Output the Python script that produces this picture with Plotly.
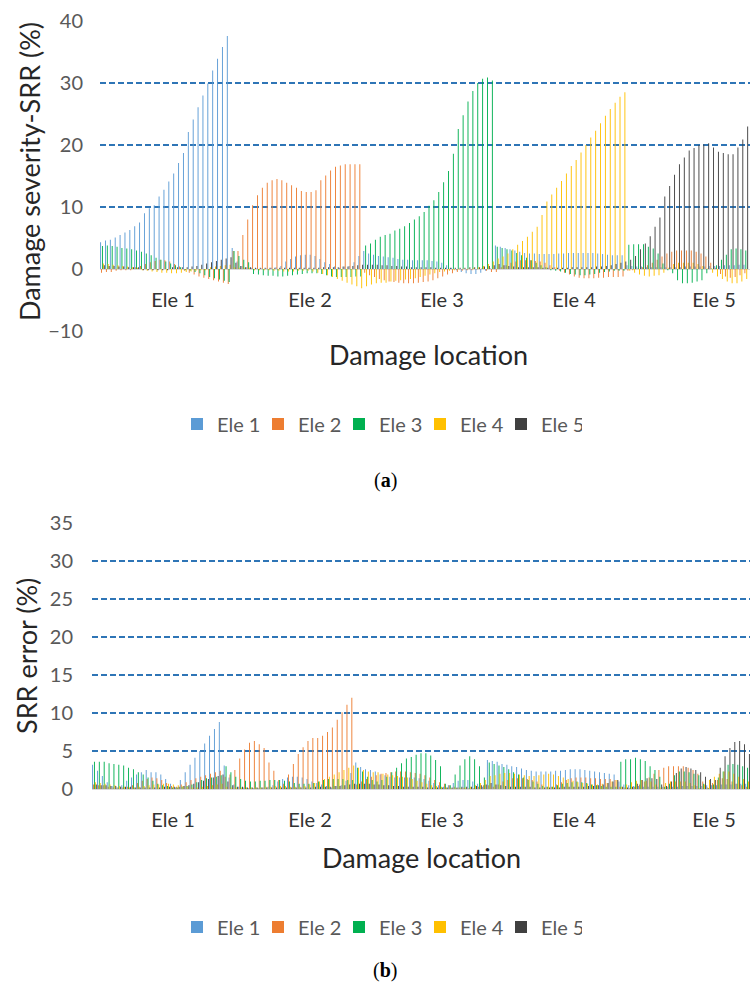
import plotly.graph_objects as go

W, H = 750, 996

series_names = ["Ele 1", "Ele 2", "Ele 3", "Ele 4", "Ele 5"]
location_labels = ["Ele 1", "Ele 2", "Ele 3", "Ele 4", "Ele 5"]
colors = ["#5B9BD5", "#ED7D31", "#00B050", "#FFC000", "#404040"]
cases_per_location = 27

# ---------------- (a) Damage severity identified by SRR (%) ----------------
# 27 damage cases per damaged element; the last cases of Ele 5 are outside the picture
sev_ele1 = [
    4.3, 4.6, 4.7, 5.1, 5.5, 5.9, 6.3, 6.9, 7.5, 9.0, 9.8, 10.3, 11.7, 12.8, 14.1, 15.4, 17.1, 18.7, 22.1, 24.1, 26.1, 28.0, 29.9, 32.0, 33.9, 35.8, 37.6,
    3.4, 1.2, 0.5, 0.3, 0.2, 0.1, 0.1, 0.1, 0.2, 0.3, 0.5, 1.2, 1.6, 2.0, 2.2, 2.3, 2.3, 2.1, 1.6, 1.1, 0.8, 0.4, 0.2, 0.4, 0.5, 1.1, 2.1,
    2.9, 2.5, 2.3, 2.1, 2.0, 1.9, 1.8, 1.6, 1.5, 1.5, 1.4, 1.4, 1.4, 1.4, 1.3, 1.2, 1.0, 0.6, 0.2, -0.2, -0.5, -0.7, -0.8, -0.8, -0.6, -0.3, 0.1,
    3.8, 3.6, 3.4, 3.2, 3.0, 2.8, 2.6, 2.5, 2.5, 2.4, 2.4, 2.4, 2.4, 2.5, 2.5, 2.6, 2.6, 2.6, 2.6, 2.6, 2.6, 2.5, 2.4, 2.3, 2.2, 2.2, 2.2,
    0.6, 0.5, 0.4, 0.4, 0.3, 0.3, 0.3, 0.3, 0.3, 0.3, 0.3, 0.3, 0.4, 0.4, 0.4, 0.4, 0.4, 0.5, 0.5, 0.5, 0.6, 0.6, 0.6, 0.7, 0.7,
]
sev_ele2 = [
    -0.6, -0.5, -0.5, -0.3, -0.2, -0.2, -0.2, 0.3, 0.5, 0.8, 1.1, 1.3, 1.5, 1.4, 1.2, 0.8, 0.4, -0.3, -0.6, -0.9, -1.2, -1.4, -1.6, -1.8, -2.0, -2.2, -2.4,
    2.9, 2.9, 5.5, 8.0, 10.3, 11.9, 13.1, 13.9, 14.3, 14.5, 14.3, 13.9, 13.5, 13.1, 12.6, 12.4, 12.4, 12.7, 14.3, 15.1, 15.9, 16.5, 16.7, 16.9, 16.9, 16.9, 16.9,
    -0.6, -1.0, -1.3, -1.6, -1.8, -2.0, -2.1, -2.2, -2.3, -2.3, -2.3, -2.2, -2.1, -2.0, -1.8, -1.5, -1.2, -0.9, -0.7, -0.5, -0.3, -0.2, -0.2, -0.1, 0.1, -0.3, -0.5,
    -0.5, 0.3, 0.6, 1.0, 1.2, 1.4, 1.4, 1.4, 1.3, 1.2, 1.0, 0.6, 0.3, -0.3, -0.6, -0.9, -1.2, -1.4, -1.5, -1.5, -1.5, -1.4, -1.4, -1.3, -1.3, -1.3, -1.2,
    -0.3, -0.2, 0.1, 0.3, 0.6, 1.0, 1.5, 2.0, 2.5, 2.8, 3.0, 3.0, 3.0, 3.0, 2.8, 2.5, 2.0, 1.0, 0.2, -0.8, -1.2, -1.4, -1.3, -1.0, -0.7,
]
sev_ele3 = [
    3.7, 3.8, 3.7, 3.6, 3.4, 3.3, 3.2, 3.0, 2.8, 2.5, 2.2, 1.8, 1.5, 1.2, 0.9, 0.6, 0.3, -0.2, -0.3, -0.5, -0.7, -1.0, -1.3, -1.5, -1.7, -1.9, -2.1,
    2.9, 2.1, 1.5, 1.1, -0.8, -0.9, -1.0, -1.1, -1.1, -1.2, -1.2, -1.1, -1.0, -0.9, -0.8, -0.7, -0.7, -0.7, -0.8, -1.0, -1.2, -1.3, -1.3, -1.3, -1.3, -1.2, -1.2,
    3.8, 4.1, 4.7, 5.2, 5.5, 5.7, 6.2, 6.5, 6.9, 7.4, 8.0, 8.5, 9.2, 10.2, 11.1, 12.4, 14.0, 15.8, 18.6, 22.6, 24.8, 27.0, 28.7, 30.0, 30.7, 30.9, 30.4,
    3.6, 3.4, 3.2, 3.0, 2.6, 2.2, 1.8, 1.4, 1.0, 0.6, 0.3, -0.2, -0.3, -0.4, -0.6, -0.8, -0.9, -1.0, -1.0, -0.9, -0.8, -0.6, -0.5, -0.4, -0.3, -0.3, -0.3,
    3.9, 4.0, 4.0, 4.0, 3.6, 3.3, 2.5, 0.9, -0.2, -0.7, -1.8, -2.3, -2.3, -2.2, -2.0, -1.8, -0.7, 0.1, 0.6, 1.5, 2.3, 3.2, 3.3, 3.2, 3.0,
]
sev_ele4 = [
    0.9, 0.8, 0.7, 0.6, 0.5, 0.4, 0.3, 0.2, -0.2, -0.3, -0.4, -0.5, -0.6, -0.6, -0.7, -0.7, -0.6, -0.5, -0.4, -0.3, -0.2, -0.2, 0.3, 0.4, 0.5, 0.6, 0.7,
    0.3, 0.2, 0.2, 0.2, -0.2, -0.2, -0.2, -0.2, -0.3, -0.3, -0.4, -0.4, -0.4, -0.3, -0.3, -0.3, -0.4, -0.6, -0.8, -1.0, -1.3, -1.6, -1.9, -2.2, -2.5, -2.8, -3.1,
    -2.8, -2.5, -2.3, -2.2, -2.2, -2.0, -1.9, -1.8, -1.7, -1.6, -1.5, -1.3, -1.1, -0.9, -0.7, -0.5, -0.4, -0.3, -0.2, -0.1, 0.1, 0.1, 0.2, 0.3, 0.5, 0.8, 1.2,
    1.7, 2.0, 2.5, 3.2, 3.9, 4.5, 5.2, 6.0, 6.8, 8.7, 10.9, 12.0, 13.1, 14.2, 15.4, 16.6, 17.6, 18.8, 20.0, 21.2, 22.3, 23.5, 24.7, 25.8, 26.8, 27.8, 28.5,
    -0.3, -0.6, -0.9, -1.1, -1.2, -1.1, -1.0, -0.6, 0.2, 0.8, 1.0, 1.0, 1.0, 1.0, 0.8, 0.5, 0.1, -0.6, -1.2, -1.6, -2.0, -2.3, -2.3, -2.0, -1.6,
]
sev_ele5 = [
    0.6, 0.5, 0.5, 0.4, 0.4, 0.3, 0.3, 0.3, -0.2, -0.2, -0.2, -0.2, -0.2, -0.2, 0.3, 0.3, 0.3, 0.3, 0.4, 0.5, 0.7, 0.9, 1.1, 1.3, 1.5, 1.7, 1.9,
    1.0, 0.5, 0.3, 0.3, 0.2, 0.2, 0.2, 0.2, 0.2, 0.2, 0.2, 0.2, 0.2, 0.2, 0.2, 0.2, 0.2, 0.2, 0.3, 0.3, 0.3, 0.3, 0.4, 0.4, 0.5, 0.6, 0.7,
    0.7, 0.7, 0.7, 0.6, 0.6, 0.5, 0.5, 0.4, 0.4, 0.3, 0.3, 0.3, 0.3, 0.3, 0.2, 0.2, 0.2, 0.2, 0.2, 0.2, 0.2, 0.3, 0.3, 0.3, 0.4, 0.5, 0.6,
    0.8, 0.6, 0.5, 0.4, 0.3, 0.3, 0.3, 0.3, 0.3, 0.2, 0.2, 0.2, 0.2, 0.2, 0.2, 0.3, 0.3, 0.3, 0.3, 0.3, 0.4, 0.4, 0.5, 0.6, 0.8, 1.0, 1.2,
    1.5, 2.1, 3.2, 4.1, 5.3, 6.8, 8.3, 11.7, 13.4, 15.2, 16.9, 18.0, 19.1, 19.5, 20.0, 20.1, 20.3, 19.6, 18.9, 18.7, 18.5, 18.5, 19.6, 20.9, 23.0,
]

# ---------------- (b) SRR error (%) ----------------
err_ele1 = [
    3.2, 2.4, 1.7, 0.9, 0.4, 0.2, 0.5, 1.1, 1.5, 1.9, 2.2, 2.5, 2.2, 2.2, 1.9, 1.3, 0.7, 0.2, 1.2, 2.2, 3.2, 4.1, 5.0, 6.0, 7.0, 7.9, 8.8,
    3.1, 1.5, 0.6, 0.3, 0.2, 0.1, 0.1, 0.1, 0.2, 0.3, 0.5, 1.0, 1.3, 1.5, 1.6, 1.6, 1.5, 1.3, 1.0, 0.8, 0.6, 0.4, 0.2, 0.4, 0.5, 1.1, 2.1,
    3.5, 2.9, 2.6, 2.5, 2.3, 1.9, 1.8, 1.6, 1.5, 1.5, 1.5, 1.5, 1.5, 1.4, 1.3, 1.1, 0.8, 0.5, 0.3, 0.5, 0.8, 1.1, 1.2, 1.2, 1.0, 0.7, 0.3,
    3.8, 3.7, 3.6, 3.3, 3.2, 3.0, 2.9, 2.7, 2.5, 2.4, 2.3, 2.3, 2.3, 2.3, 2.4, 2.4, 2.5, 2.6, 2.6, 2.6, 2.5, 2.4, 2.3, 2.2, 2.1, 2.0, 1.9,
    1.0, 0.6, 0.5, 0.4, 0.4, 0.3, 0.3, 0.3, 0.3, 0.3, 0.3, 0.3, 0.3, 0.4, 0.4, 0.4, 0.4, 0.4, 0.5, 0.5, 0.5, 0.6, 0.6, 0.6, 0.7, 0.7, 0.7,
]
err_ele2 = [
    0.6, 0.5, 0.5, 0.3, 0.2, 0.2, 0.2, 0.3, 0.5, 0.8, 1.1, 1.3, 1.5, 1.4, 1.2, 0.8, 0.4, 0.3, 0.6, 0.9, 1.2, 1.4, 1.6, 1.8, 2.0, 2.2, 2.4,
    1.6, 1.9, 2.5, 4.0, 5.2, 6.1, 6.3, 5.9, 5.4, 3.5, 2.4, 1.2, 0.7, 1.9, 3.3, 4.6, 5.5, 6.3, 6.7, 6.7, 7.0, 7.5, 8.1, 9.1, 10.1, 11.1, 12.0,
    0.6, 1.0, 1.3, 1.6, 1.8, 2.0, 2.1, 2.2, 2.3, 2.3, 2.3, 2.2, 2.1, 2.0, 1.8, 1.5, 1.2, 0.9, 0.7, 0.5, 0.3, 0.2, 0.2, 0.1, 0.1, 0.3, 0.5,
    0.5, 0.3, 0.6, 1.0, 1.2, 1.4, 1.4, 1.4, 1.3, 1.2, 1.0, 0.6, 0.3, 0.3, 0.6, 0.9, 1.2, 1.4, 1.5, 1.5, 1.5, 1.4, 1.4, 1.3, 1.3, 1.3, 1.2,
    0.3, 0.2, 0.1, 0.3, 0.6, 1.0, 1.5, 2.0, 2.5, 2.8, 3.0, 3.0, 3.0, 3.0, 2.8, 2.5, 2.0, 1.0, 0.2, 0.8, 1.2, 1.4, 1.3, 1.0, 0.7, 0.5, 0.3,
]
err_ele3 = [
    3.6, 3.6, 3.6, 3.4, 3.3, 3.2, 3.1, 2.8, 2.6, 2.2, 1.9, 1.5, 1.1, 0.7, 0.5, 0.4, 0.2, 0.2, 0.3, 0.4, 0.6, 0.9, 1.2, 1.4, 1.5, 1.6, 1.8,
    3.0, 2.2, 1.6, 1.3, 1.1, 1.0, 1.0, 1.1, 1.1, 1.2, 1.2, 1.2, 1.1, 1.0, 0.8, 0.7, 0.7, 0.7, 0.8, 1.0, 1.2, 1.3, 1.3, 1.3, 1.3, 1.2, 1.2,
    2.8, 2.3, 1.6, 1.2, 1.0, 1.2, 1.6, 2.2, 2.8, 3.4, 4.0, 4.2, 4.5, 4.7, 4.7, 4.4, 3.8, 3.0, 0.7, 0.5, 1.9, 3.1, 3.9, 4.3, 3.9, 3.0, 1.5,
    3.5, 3.3, 3.1, 2.9, 2.6, 2.2, 1.9, 1.5, 1.2, 1.0, 0.7, 0.4, 0.3, 0.3, 0.5, 0.7, 0.8, 0.9, 1.0, 0.9, 0.8, 0.6, 0.5, 0.4, 0.3, 0.3, 0.3,
    3.6, 3.9, 3.9, 4.1, 3.9, 3.7, 3.0, 2.5, 1.6, 0.3, 0.7, 1.8, 2.3, 2.3, 2.2, 2.0, 1.8, 0.7, 0.1, 0.6, 1.5, 2.3, 3.2, 3.3, 3.2, 3.0, 2.8,
]
err_ele4 = [
    0.9, 0.8, 0.7, 0.6, 0.5, 0.4, 0.3, 0.2, 0.2, 0.3, 0.4, 0.5, 0.6, 0.6, 0.7, 0.7, 0.6, 0.5, 0.4, 0.3, 0.2, 0.2, 0.3, 0.4, 0.5, 0.6, 0.7,
    0.3, 0.2, 0.2, 0.2, 0.2, 0.2, 0.2, 0.2, 0.3, 0.3, 0.4, 0.4, 0.4, 0.3, 0.3, 0.3, 0.4, 0.6, 0.8, 1.0, 1.3, 1.6, 1.9, 2.2, 2.5, 2.8, 3.1,
    2.8, 2.5, 2.3, 2.2, 2.2, 2.0, 1.9, 1.8, 1.7, 1.6, 1.5, 1.3, 1.1, 0.9, 0.7, 0.5, 0.4, 0.3, 0.2, 0.1, 0.1, 0.1, 0.2, 0.3, 0.5, 0.8, 1.2,
    1.7, 1.8, 2.0, 2.1, 2.1, 2.0, 1.9, 1.8, 1.7, 1.7, 1.8, 1.9, 2.0, 1.9, 1.7, 1.5, 1.3, 1.1, 0.9, 0.8, 0.7, 0.6, 0.6, 0.7, 0.8, 1.0, 1.2,
    0.3, 0.6, 0.9, 1.1, 1.2, 1.1, 1.0, 0.6, 0.2, 0.8, 1.0, 1.0, 1.0, 1.0, 0.8, 0.5, 0.1, 0.6, 1.2, 1.6, 2.0, 2.3, 2.3, 2.0, 1.6, 1.3, 1.0,
]
err_ele5 = [
    0.6, 0.5, 0.5, 0.4, 0.4, 0.3, 0.3, 0.3, 0.2, 0.2, 0.2, 0.2, 0.2, 0.2, 0.3, 0.3, 0.3, 0.3, 0.4, 0.5, 0.7, 0.9, 1.1, 1.3, 1.5, 1.7, 1.9,
    1.0, 0.5, 0.3, 0.3, 0.2, 0.2, 0.2, 0.2, 0.2, 0.2, 0.2, 0.2, 0.2, 0.2, 0.2, 0.2, 0.2, 0.2, 0.3, 0.3, 0.3, 0.3, 0.4, 0.4, 0.5, 0.6, 0.7,
    0.7, 0.7, 0.7, 0.6, 0.6, 0.5, 0.5, 0.4, 0.4, 0.3, 0.3, 0.3, 0.3, 0.3, 0.2, 0.2, 0.2, 0.2, 0.2, 0.2, 0.2, 0.3, 0.3, 0.3, 0.4, 0.5, 0.6,
    0.8, 0.6, 0.5, 0.4, 0.3, 0.3, 0.3, 0.3, 0.3, 0.2, 0.2, 0.2, 0.2, 0.2, 0.2, 0.3, 0.3, 0.3, 0.3, 0.3, 0.4, 0.4, 0.5, 0.6, 0.8, 1.0, 1.2,
    0.3, 0.2, 0.3, 0.7, 1.2, 1.4, 1.4, 1.3, 0.6, 0.4, 1.0, 2.1, 2.7, 2.9, 2.7, 2.5, 2.2, 1.6, 1.3, 1.2, 2.8, 4.3, 5.4, 6.2, 6.3, 5.9, 4.6,
]

sev_series = [sev_ele1, sev_ele2, sev_ele3, sev_ele4, sev_ele5]
err_series = [err_ele1, err_ele2, err_ele3, err_ele4, err_ele5]

# ---------------- layout geometry (pixels) ----------------
def fx(p):
    return p / W

def fy(p):
    return 1 - p / H

A_L, A_T, A_B = 100, 21, 331
B_L, B_T, B_B = 92, 523, 789
n_total = cases_per_location * len(location_labels)
slot = (W - B_L) / n_total            # pixels per damage case
a_right = -0.5 + (W - A_L) / slot
a_label_px = [173, 310, 442, 574, 714]
b_label_px = [173, 310, 442, 574, 714]
a_tickvals = [(p - A_L) / slot - 0.5 for p in a_label_px]
b_tickvals = [(p - B_L) / slot - 0.5 for p in b_label_px]

FONT = "Lato"
GRID = "#2E75B6"

fig = go.Figure()
for name, col, vals in zip(series_names, colors, sev_series):
    fig.add_trace(go.Bar(x=list(range(len(vals))), y=vals, name=name,
                         marker=dict(color=col, line=dict(width=0)),
                         xaxis="x", yaxis="y", legend="legend"))
for name, col, vals in zip(series_names, colors, err_series):
    fig.add_trace(go.Bar(x=list(range(len(vals))), y=vals, name=name,
                         marker=dict(color=col, line=dict(width=0)),
                         xaxis="x2", yaxis="y2", legend="legend2"))

tickfont_x = dict(family=FONT, size=20, color="#333333")
tickfont_y = dict(family=FONT, size=20, color="#595959")
title_font = dict(family=FONT, size=27, color="#262626")
legend_font = dict(family=FONT, size=20, color="#595959")

def ann(text, x, y, font, angle=0):
    return dict(text=text, x=fx(x), y=fy(y), xref="paper", yref="paper",
                xanchor="center", yanchor="middle", showarrow=False,
                textangle=angle, font=font)

fig.update_layout(
    width=W, height=H,
    margin=dict(l=0, r=0, t=0, b=0, pad=0, autoexpand=False),
    paper_bgcolor="white", plot_bgcolor="white",
    barmode="group", bargap=0.05, bargroupgap=0,
    font=dict(family=FONT, color="#404040"),
    xaxis=dict(domain=[fx(A_L), 1], range=[-0.5, a_right], anchor="free", position=fy(269),
               tickmode="array", tickvals=a_tickvals, ticktext=location_labels,
               showgrid=False, zeroline=False, showline=False, automargin=False,
               ticks="outside", ticklen=13, tickcolor="rgba(0,0,0,0)", tickfont=tickfont_x),
    yaxis=dict(domain=[fy(A_B), fy(A_T)], range=[-10, 40], dtick=10, anchor="x",
               showgrid=True, gridcolor=GRID, griddash="6px,3px", gridwidth=1.5,
               zeroline=True, zerolinecolor="#D9D9D9", zerolinewidth=1, showline=False,
               automargin=False,
               ticks="outside", ticklen=12, tickcolor="rgba(0,0,0,0)", tickfont=tickfont_y),
    xaxis2=dict(domain=[fx(B_L), 1], range=[-0.5, n_total - 0.5], anchor="y2",
                tickmode="array", tickvals=b_tickvals, ticktext=location_labels,
                showgrid=False, zeroline=False, showline=True, linecolor="#D9D9D9", linewidth=1,
                automargin=False,
                ticks="outside", ticklen=13, tickcolor="rgba(0,0,0,0)", tickfont=tickfont_x),
    yaxis2=dict(domain=[fy(B_B), fy(B_T)], range=[0, 35], dtick=5, anchor="x2",
                showgrid=True, gridcolor=GRID, griddash="6px,3px", gridwidth=1.5,
                zeroline=False, showline=False, automargin=False,
                ticks="outside", ticklen=14, tickcolor="rgba(0,0,0,0)", tickfont=tickfont_y),
    legend=dict(orientation="h", x=fx(177), y=fy(424), xanchor="left", yanchor="middle",
                font=legend_font, bgcolor="rgba(0,0,0,0)",
                itemwidth=30, entrywidth=36, traceorder="normal"),
    legend2=dict(orientation="h", x=fx(177), y=fy(927), xanchor="left", yanchor="middle",
                 font=legend_font, bgcolor="rgba(0,0,0,0)",
                 itemwidth=30, entrywidth=36, traceorder="normal"),
    annotations=[
        ann("Damage severity-SRR (%)", 29, 172, title_font, -90),
        ann("Damage location", 429, 354, title_font),
        ann("(<b>a</b>)", 385, 480, dict(family="Liberation Serif", size=20, color="black")),
        ann("SRR error (%)", 26, 656, title_font, -90),
        ann("Damage location", 421, 857, title_font),
        ann("(<b>b</b>)", 385, 970, dict(family="Liberation Serif", size=20, color="black")),
    ],
)

fig.write_html("out.html", config={"displayModeBar": False, "staticPlot": True},
               post_script="document.body.style.margin='0px';")
